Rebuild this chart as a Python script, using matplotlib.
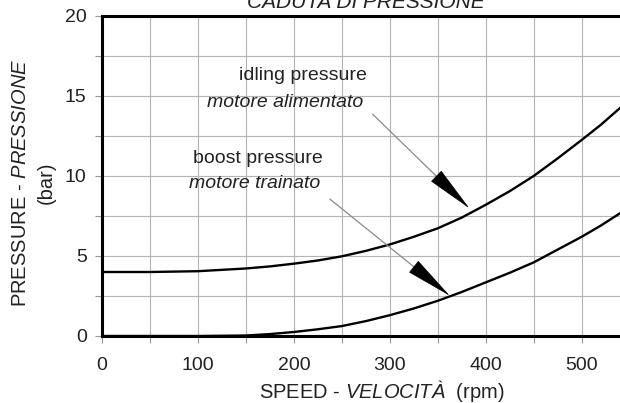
import matplotlib
matplotlib.use("Agg")
import numpy as np
import matplotlib.pyplot as plt
from matplotlib.ticker import MultipleLocator

# font setup (Arial-like), mathtext used for the italic parts of labels
plt.rcParams['font.family'] = ['Liberation Sans', 'DejaVu Sans']
plt.rcParams['mathtext.fontset'] = 'custom'
plt.rcParams['mathtext.rm'] = 'Liberation Sans'
plt.rcParams['mathtext.it'] = 'Liberation Sans:italic'

# curve data
speed = [0, 50, 100, 150, 175, 200, 225, 250, 275, 300, 325, 350, 375, 400, 425, 450, 475, 500, 520, 540]
idling = [4.0, 4.0, 4.05, 4.22, 4.35, 4.52, 4.72, 4.98, 5.32, 5.72, 6.2, 6.73, 7.4, 8.2, 9.05, 10.0, 11.1, 12.25, 13.2, 14.25]
boost = [0.0, 0.0, 0.0, 0.03, 0.12, 0.25, 0.42, 0.62, 0.93, 1.3, 1.72, 2.2, 2.75, 3.35, 3.95, 4.6, 5.4, 6.2, 6.9, 7.67]

x_ticks = [0, 100, 200, 300, 400, 500]
y_ticks = [0, 5, 10, 15, 20]

# annotation text and arrows (tail -> tip, data coords)
idling_lines = ["idling pressure", "motore alimentato"]
idling_text_xy = [(276, 16.3), (272, 14.6)]
idling_arrow = [(282, 13.87), (383, 7.98)]
boost_lines = ["boost pressure", "motore trainato"]
boost_text_xy = [(230, 11.1), (227, 9.5)]
boost_arrow = [(237.5, 8.56), (362.5, 2.52)]

fig = plt.figure(figsize=(6.2, 4.03), dpi=100)
ax = fig.add_axes([102 / 620, 1 - 336 / 403, 1 - 102 / 620, 320 / 403])

ax.set_xlim(0, 540)
ax.set_ylim(0, 20)
ax.xaxis.set_minor_locator(MultipleLocator(50))
ax.yaxis.set_minor_locator(MultipleLocator(2.5))
ax.set_xticks(x_ticks)
ax.set_yticks(y_ticks)

ax.grid(True, which='both', color='#b4b4b4', linewidth=0.8)
ax.set_axisbelow(True)
ax.tick_params(which='both', direction='out', length=5, width=0.8, color='#9a9a9a')
ax.tick_params(axis='x', which='major', labelsize=14, pad=10, labelcolor='#222222')
ax.tick_params(axis='y', which='major', labelsize=14, pad=6, labelcolor='#222222')

for s in ['left', 'bottom', 'top']:
    ax.spines[s].set_linewidth(2.2)
    ax.spines[s].set_color('black')
ax.spines['right'].set_visible(False)

ax.plot(speed, idling, color='black', linewidth=1.7)
ax.plot(speed, boost, color='black', linewidth=1.7)

# labels
ax.set_ylabel("PRESSURE - $\\mathit{PRESSIONE}$\n(bar)", fontsize=14.5, color='#222222', linespacing=1.45)
ax.yaxis.set_label_coords(-0.09, 0.48)
ax.set_xlabel("SPEED - $\\mathit{VELOCIT\u00c0}$  (rpm)", fontsize=14.5, color='#222222')
ax.xaxis.set_label_coords(0.54, -0.13)
fig.text(0.59, 1 - 8 / 403, "CADUTA DI PRESSIONE", fontsize=15, style='italic',
         ha='center', va='baseline', color='#222222')

# annotation texts
for lines, xys in [(idling_lines, idling_text_xy), (boost_lines, boost_text_xy)]:
    ax.text(xys[0][0], xys[0][1], lines[0], fontsize=14, ha='right', va='center', color='#222222')
    ax.text(xys[1][0], xys[1][1], lines[1], fontsize=14, ha='right', va='center',
            style='italic', color='#222222')

# arrows: thin gray shaft + narrow black head
head_len_px = 44
for tail, tip in [idling_arrow, boost_arrow]:
    t0 = ax.transData.transform(tail)
    t1 = ax.transData.transform(tip)
    d = (t1 - t0) / np.hypot(*(t1 - t0))
    base = ax.transData.inverted().transform(t1 - d * head_len_px)
    ax.annotate("", xy=tuple(base), xytext=tail,
                arrowprops=dict(arrowstyle='-', color='#8a8a8a', lw=0.9, shrinkA=0, shrinkB=0))
    ax.annotate("", xy=tip, xytext=tuple(base),
                arrowprops=dict(arrowstyle='-|>,head_length=3.15,head_width=0.5',
                                mutation_scale=10, color='black', lw=0.5,
                                shrinkA=0, shrinkB=0))

fig.savefig("out.png", dpi=100)
